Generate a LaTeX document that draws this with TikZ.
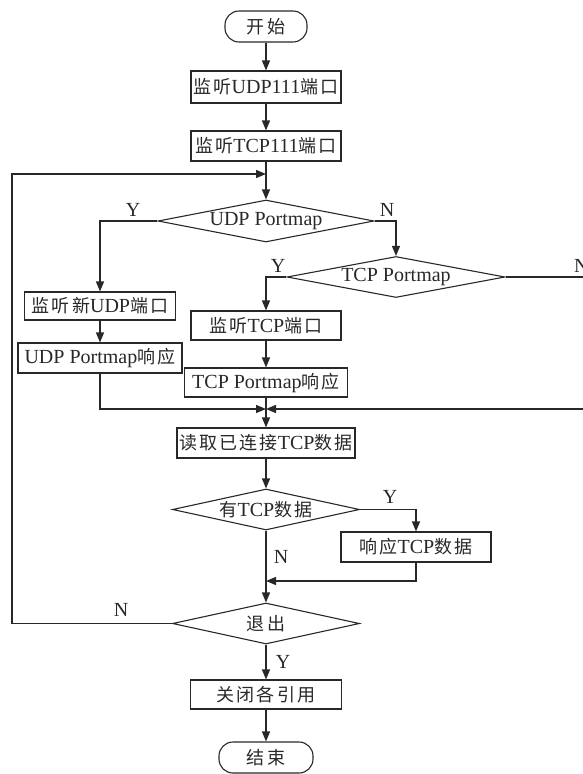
\documentclass[tikz,border=0pt]{standalone}
\usepackage{fontspec}
\setmainfont{Liberation Serif}
\newfontfamily\cjkfont[Scale=0.9,LetterSpace=12]{Noto Sans CJK SC}
\newcommand\zhs[1]{{\cjkfont #1}}
\usetikzlibrary{shapes.geometric,arrows.meta}
\definecolor{lc}{RGB}{40,40,40}
\begin{document}
\begin{tikzpicture}[x=1pt,y=-1pt,
 every node/.style={font=\fontsize{20}{24}\selectfont, text=lc},
 box/.style={draw=lc, line width=1.1pt, rectangle, inner sep=0pt},
 term/.style={draw=lc, line width=1.1pt, rounded corners=14pt, inner sep=0pt},
 dia/.style={draw=lc, line width=1.1pt, diamond, inner sep=0pt},
 arr/.style={draw=lc, line width=1.3pt, -{Triangle[length=10pt,width=8pt]}},
 lab/.style={inner sep=0pt}]
\useasboundingbox (0,0) rectangle (583,774);

\node[term, minimum width=82pt, minimum height=31pt] (st) at (266,26.5) {\zhs{开始}};
\node[box, minimum width=150pt, minimum height=32pt] (b1) at (266,87) {\zhs{监听}UDP111\zhs{端口}};
\node[box, minimum width=150pt, minimum height=30pt] (b2) at (266,146) {\zhs{监听}TCP111\zhs{端口}};

\node[dia, minimum width=216pt, minimum height=42pt] (d1) at (266,221) {};
\node[lab] (d1t) at (266,221) {UDP Portmap};

\node[box, minimum width=151pt, minimum height=28pt] (u1) at (100,306) {\zhs{监听新}UDP\zhs{端口}};
\node[box, minimum width=164pt, minimum height=30pt] (u2) at (100,358) {UDP Portmap\zhs{响应}};

\node[dia, minimum width=218pt, minimum height=41pt] (d2) at (396,277) {};
\node[lab] (d2t) at (396,277) {TCP Portmap};

\node[box, minimum width=150pt, minimum height=29pt] (t1) at (266,325.5) {\zhs{监听}TCP\zhs{端口}};
\node[box, minimum width=163pt, minimum height=29pt] (t2) at (266,382.5) {TCP Portmap\zhs{响应}};

\node[box, minimum width=178pt, minimum height=30pt] (r1) at (266,443) {\zhs{读取已连接}TCP\zhs{数据}};

\node[dia, minimum width=187pt, minimum height=41pt] (d3) at (266,509.5) {};
\node[lab] (d3t) at (266,509.5) {\zhs{有}TCP\zhs{数据}};

\node[box, minimum width=150pt, minimum height=30pt] (r2) at (416,547) {\zhs{响应}TCP\zhs{数据}};

\node[dia, minimum width=187pt, minimum height=41pt] (d4) at (266,623.5) {};
\node[lab] (d4t) at (266,623.5) {\zhs{退出}};

\node[box, minimum width=151pt, minimum height=29pt] (c1) at (266,694.5) {\zhs{关闭各引用}};
\node[term, minimum width=94pt, minimum height=31pt] (en) at (266,757.5) {\zhs{结束}};

\coordinate (lp) at (266,174);
\coordinate (lpl) at (12,174);
\coordinate (mg) at (266,409);
\coordinate (rgt) at (592,409);
\coordinate (jn) at (266,581);

\draw[arr] (st) -- (b1);
\draw[arr] (b1) -- (b2);
\draw[arr] (b2) -- (d1);
\draw[arr] (d4.west) -| (lpl) -- (lp);
\draw[arr] (d1.west) -| (u1.north);
\draw[arr] (d1.east) -| (d2.north);
\draw[arr] (d2.west) -| (t1.north);
\draw[arr] (d2.east) -| (rgt) -- (mg);
\draw[arr] (u1) -- (u2);
\draw[arr] (u2.south) |- (mg);
\draw[arr] (t1) -- (t2);
\draw[arr] (t2) -- (r1);
\draw[arr] (r1) -- (d3);
\draw[arr] (d3.east) -| (r2.north);
\draw[arr] (r2.south) |- (jn);
\draw[arr] (d3.south) -- (d4.north);
\draw[arr] (d4) -- (c1);
\draw[arr] (c1) -- (en);

\node[lab] (ly1) at (133,210) {Y};
\node[lab] (ln1) at (387,210) {N};
\node[lab] (ly2) at (278,266) {Y};
\node[lab, anchor=west] (ln2) at (574,266) {N};
\node[lab] (ly3) at (390,497) {Y};
\node[lab] (ln3) at (281,557) {N};
\node[lab] (ln4) at (121,610) {N};
\node[lab] (ly4) at (283,662) {Y};
\end{tikzpicture}
\end{document}
